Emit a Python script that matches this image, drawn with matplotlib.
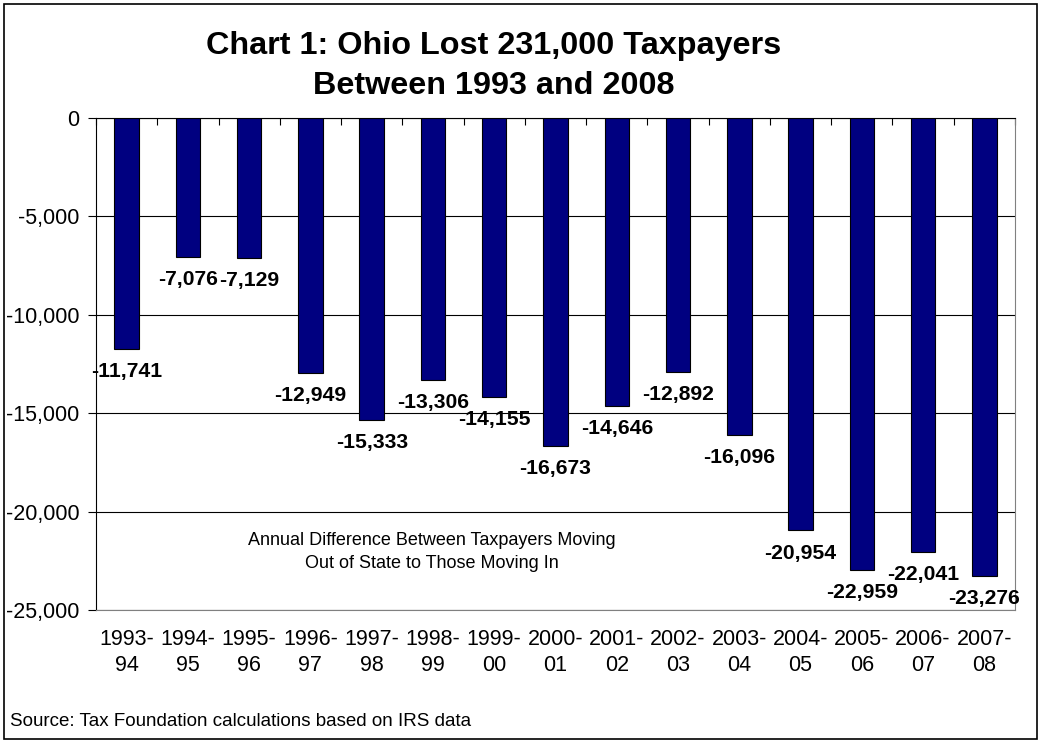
import numpy as np
import matplotlib
matplotlib.use("Agg")
import matplotlib.pyplot as plt
from matplotlib.patches import Rectangle

plt.rcParams['font.family'] = ['Liberation Sans', 'DejaVu Sans']

years = ["1993-\n94", "1994-\n95", "1995-\n96", "1996-\n97", "1997-\n98",
         "1998-\n99", "1999-\n00", "2000-\n01", "2001-\n02", "2002-\n03",
         "2003-\n04", "2004-\n05", "2005-\n06", "2006-\n07", "2007-\n08"]
net_migration = [-11741, -7076, -7129, -12949, -15333, -13306, -14155, -16673,
                 -14646, -12892, -16096, -20954, -22959, -22041, -23276]
yticks = [0, -5000, -10000, -15000, -20000, -25000]

W, H = 1041, 742
fig = plt.figure(figsize=(W / 100, H / 100), dpi=100)
fig.patch.set_facecolor('white')
ax = fig.add_axes([96 / W, 1 - 610 / H, (1015 - 96) / W, (610 - 118) / H])

x = np.arange(len(years))
ax.bar(x, net_migration, width=0.4, color='#000080', edgecolor='black', linewidth=0.8, zorder=3)

# data labels under each bar
for xi, v in zip(x, net_migration):
    ax.annotate(f"{v:,}", (xi, v), xytext=(0, -9.5), textcoords='offset points',
                ha='center', va='top', fontsize=15.2, fontweight='bold', zorder=4)

ax.set_xlim(-0.5, len(years) - 0.5)
ax.set_ylim(-25000, 0)
ax.set_yticks(yticks)
ax.set_yticklabels([f"{t:,}" for t in yticks], fontsize=15.5)
ax.tick_params(axis='y', direction='out', length=6, width=0.8, pad=6)

ax.set_xticks(x)
ax.set_xticklabels(years, fontsize=15.5, linespacing=1.28)
ax.set_xticks(np.arange(len(years) + 1) - 0.5, minor=True)
ax.tick_params(axis='x', which='major', length=0, pad=14)
ax.tick_params(axis='x', which='minor', top=True, bottom=False, direction='in', length=5, width=0.8)

ax.yaxis.grid(True, color='black', linewidth=0.8, zorder=0)
ax.set_axisbelow(True)
for side in ['right', 'bottom']:
    ax.spines[side].set_color('#808080')
ax.spines['left'].set_color('black')
ax.spines['top'].set_color('black')

fig.text(494 / W, 1 - 66 / H, "Chart 1: Ohio Lost 231,000 Taxpayers\nBetween 1993 and 2008",
         ha='center', va='center', fontsize=23.3, fontweight='bold', linespacing=1.42)
fig.text(432 / W, 1 - 552 / H, "Annual Difference Between Taxpayers Moving\nOut of State to Those Moving In",
         ha='center', va='center', fontsize=13, linespacing=1.45)
fig.text(10 / W, 1 - 722 / H, "Source: Tax Foundation calculations based on IRS data",
         ha='left', va='center', fontsize=13.5)

fig.patches.append(Rectangle((4 / W, 3 / H), (W - 8) / W, (H - 7) / H, transform=fig.transFigure,
                             fill=False, edgecolor='black', linewidth=1.2))

fig.savefig('out.png', dpi=100)
